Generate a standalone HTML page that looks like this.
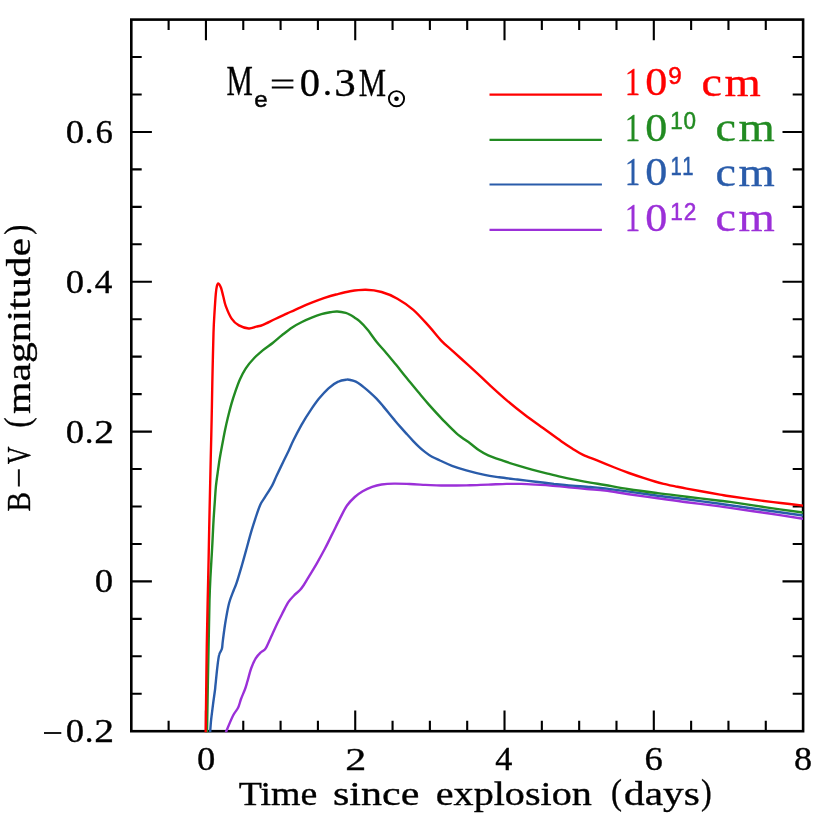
<!DOCTYPE html>
<html><head><meta charset="utf-8"><title>B-V</title>
<style>
html,body{margin:0;padding:0;background:#fff;}
svg{display:block;}
.s{font-family:"Liberation Sans",sans-serif;}
.r{font-family:"Liberation Serif",serif;}
</style></head><body>
<svg width="830" height="822" viewBox="0 0 830 822">
<rect width="830" height="822" fill="#fff"/>
<path d="M168.62 731.20v-10.4M168.62 19.60v10.4M205.94 731.20v-20.6M205.94 19.60v20.6M243.27 731.20v-10.4M243.27 19.60v10.4M280.59 731.20v-10.4M280.59 19.60v10.4M317.91 731.20v-10.4M317.91 19.60v10.4M355.23 731.20v-20.6M355.23 19.60v20.6M392.56 731.20v-10.4M392.56 19.60v10.4M429.88 731.20v-10.4M429.88 19.60v10.4M467.20 731.20v-10.4M467.20 19.60v10.4M504.52 731.20v-20.6M504.52 19.60v20.6M541.84 731.20v-10.4M541.84 19.60v10.4M579.17 731.20v-10.4M579.17 19.60v10.4M616.49 731.20v-10.4M616.49 19.60v10.4M653.81 731.20v-20.6M653.81 19.60v20.6M691.13 731.20v-10.4M691.13 19.60v10.4M728.46 731.20v-10.4M728.46 19.60v10.4M765.78 731.20v-10.4M765.78 19.60v10.4M131.30 693.75h10.4M803.10 693.75h-10.4M131.30 656.29h10.4M803.10 656.29h-10.4M131.30 618.84h10.4M803.10 618.84h-10.4M131.30 581.39h20.6M803.10 581.39h-20.6M131.30 543.94h10.4M803.10 543.94h-10.4M131.30 506.48h10.4M803.10 506.48h-10.4M131.30 469.03h10.4M803.10 469.03h-10.4M131.30 431.58h20.6M803.10 431.58h-20.6M131.30 394.13h10.4M803.10 394.13h-10.4M131.30 356.67h10.4M803.10 356.67h-10.4M131.30 319.22h10.4M803.10 319.22h-10.4M131.30 281.77h20.6M803.10 281.77h-20.6M131.30 244.32h10.4M803.10 244.32h-10.4M131.30 206.86h10.4M803.10 206.86h-10.4M131.30 169.41h10.4M803.10 169.41h-10.4M131.30 131.96h20.6M803.10 131.96h-20.6M131.30 94.51h10.4M803.10 94.51h-10.4M131.30 57.05h10.4M803.10 57.05h-10.4" stroke="#000" stroke-width="2.1" fill="none"/>
<rect x="131.30" y="19.60" width="671.80" height="711.60" fill="none" stroke="#000" stroke-width="2.6"/>
<clipPath id="c"><rect x="131.3" y="19.6" width="672.4" height="712.8"/></clipPath>
<g clip-path="url(#c)" fill="none" stroke-width="2.4" stroke-linejoin="round">
<path d="M225.8 732.4C227.0 729.6 231.0 719.6 233.1 715.5C235.2 711.4 236.9 710.3 238.2 707.5C239.5 704.7 240.0 701.7 241.1 698.8C242.2 695.9 243.6 692.9 244.7 690.0C245.8 687.1 246.4 684.8 247.5 681.2C248.6 677.6 249.7 672.3 251.1 668.5C252.5 664.7 254.0 661.1 255.7 658.4C257.4 655.6 259.5 653.7 261.2 652.0C262.9 650.3 263.9 651.3 265.7 648.4C267.5 645.5 270.1 639.0 272.1 634.7C274.1 630.4 275.8 626.6 277.6 622.8C279.4 619.0 281.3 615.4 283.1 611.9C284.9 608.4 286.7 604.6 288.5 601.9C290.3 599.2 292.1 597.5 294.0 595.5C295.9 593.5 298.4 591.8 300.0 590.0C301.6 588.2 302.2 587.4 303.8 585.0C305.4 582.6 307.1 579.5 309.3 575.9C311.5 572.2 314.4 567.7 317.0 563.1C319.6 558.5 322.4 553.4 325.0 548.5C327.6 543.6 329.8 538.9 332.3 533.9C334.8 528.9 337.6 523.1 340.0 518.4C342.4 513.7 344.5 509.1 347.0 505.5C349.5 501.9 352.2 499.4 354.8 497.0C357.4 494.6 359.8 492.9 362.7 491.2C365.6 489.5 369.0 487.9 372.1 486.8C375.2 485.7 377.9 485.0 381.5 484.5C385.1 484.0 389.3 483.7 394.0 483.6C398.7 483.5 404.4 483.8 409.6 484.0C414.8 484.2 420.1 484.6 425.3 484.9C430.5 485.1 435.8 485.4 441.0 485.5C446.2 485.6 451.8 485.5 456.6 485.5C461.4 485.5 464.7 485.4 470.0 485.3C475.3 485.2 482.1 484.8 488.2 484.6C494.3 484.4 501.0 484.0 506.5 483.9C512.0 483.8 516.2 483.8 521.1 483.9C526.0 484.0 530.8 484.3 535.7 484.6C540.6 484.9 544.8 485.1 550.3 485.5C555.8 485.9 562.4 486.6 568.5 487.2C574.6 487.8 580.7 488.4 586.8 489.0C592.9 489.6 598.0 489.6 605.0 490.5C612.0 491.4 620.1 492.9 628.9 494.2C637.7 495.5 648.2 497.0 657.8 498.3C667.4 499.6 676.3 500.9 686.7 502.2C697.1 503.5 712.8 505.4 720.0 506.4C727.2 507.3 722.0 506.8 730.0 507.9C738.0 509.0 755.5 511.5 767.7 513.3C779.9 515.1 797.1 517.8 803.0 518.7" stroke="#9b30d8"/>
<path d="M210.1 732.4C210.3 730.2 210.7 723.8 211.2 719.2C211.7 714.6 212.4 709.5 213.0 704.6C213.6 699.7 214.6 693.3 215.0 690.0C215.4 686.7 215.1 688.8 215.5 684.9C215.9 681.0 216.8 671.6 217.4 666.6C218.0 661.6 218.4 657.8 219.2 654.8C219.9 651.8 221.3 651.1 221.9 648.8C222.5 646.5 222.2 645.7 222.8 641.1C223.4 636.5 224.5 627.4 225.6 621.0C226.7 614.6 227.8 608.0 229.2 602.8C230.6 597.6 232.6 593.3 233.8 590.0C235.0 586.7 235.1 587.4 236.5 583.2C237.9 579.0 240.3 570.8 242.0 565.0C243.7 559.2 245.1 554.0 246.6 548.5C248.1 543.0 249.6 537.3 251.1 532.1C252.6 526.9 254.2 522.1 255.7 517.5C257.2 512.9 258.8 508.1 260.3 504.7C261.8 501.3 262.8 500.6 264.8 497.4C266.8 494.2 270.1 489.2 272.1 485.6C274.1 482.0 274.8 479.5 276.7 475.5C278.6 471.5 281.4 465.7 283.4 461.5C285.4 457.3 287.1 454.0 288.8 450.5C290.5 447.0 291.2 444.8 293.3 440.5C295.4 436.2 298.7 429.8 301.5 424.8C304.3 419.9 307.3 415.1 310.2 410.8C313.1 406.5 315.8 402.6 318.8 398.8C321.9 395.1 325.3 391.2 328.5 388.3C331.7 385.4 335.2 383.1 338.2 381.7C341.2 380.2 344.5 379.9 346.7 379.6C348.9 379.4 350.0 379.9 351.5 380.2C353.0 380.5 354.4 380.9 355.8 381.6C357.2 382.3 358.6 383.2 360.0 384.2C361.4 385.2 362.6 386.2 364.3 387.6C366.0 389.0 368.4 391.0 370.4 392.8C372.4 394.6 374.5 396.5 376.5 398.6C378.5 400.7 380.6 403.2 382.6 405.6C384.6 408.0 386.7 410.5 388.7 413.0C390.7 415.5 392.8 418.0 394.8 420.4C396.8 422.8 398.8 425.1 400.8 427.4C402.8 429.7 405.0 432.1 407.0 434.3C409.0 436.5 411.0 438.7 413.0 440.8C415.0 442.9 417.0 444.9 419.0 446.8C421.0 448.7 423.0 450.4 425.2 452.1C427.4 453.8 429.5 455.4 432.0 456.8C434.5 458.2 436.7 459.0 440.0 460.5C443.3 462.0 447.6 464.2 452.0 465.8C456.4 467.4 460.9 468.8 466.3 470.3C471.7 471.8 479.1 473.7 484.6 474.9C490.1 476.1 493.7 476.5 499.2 477.3C504.7 478.1 511.3 478.8 517.4 479.5C523.5 480.2 529.6 481.0 535.7 481.7C541.8 482.4 547.8 483.2 553.9 483.9C560.0 484.5 566.1 485.1 572.2 485.6C578.3 486.1 584.9 486.5 590.4 487.0C595.9 487.5 598.6 487.6 605.0 488.4C611.4 489.2 620.1 490.4 628.9 491.6C637.7 492.8 648.2 494.4 657.8 495.7C667.4 497.0 676.3 497.9 686.7 499.3C697.1 500.7 712.8 502.8 720.0 503.8C727.2 504.8 722.0 504.1 730.0 505.2C738.0 506.3 755.5 508.8 767.7 510.5C779.9 512.2 797.1 514.7 803.0 515.5" stroke="#2a5caa"/>
<path d="M207.0 732.4C207.2 723.9 207.6 697.3 207.9 681.2C208.2 665.1 208.5 649.1 208.8 635.6C209.1 622.1 209.2 609.6 209.5 600.0C209.8 590.4 210.0 585.7 210.4 577.7C210.8 569.7 211.4 560.7 211.9 552.2C212.4 543.7 212.8 534.5 213.2 526.6C213.6 518.7 214.1 511.4 214.6 504.7C215.1 498.0 215.3 492.6 215.9 486.5C216.5 480.4 217.7 472.9 218.3 468.2C219.0 463.4 219.2 461.5 219.8 458.0C220.4 454.5 220.9 451.6 221.8 447.0C222.7 442.4 224.0 435.1 225.0 430.3C226.0 425.5 226.6 422.6 227.7 418.2C228.8 413.8 230.2 408.1 231.5 403.6C232.8 399.1 234.0 395.5 235.4 391.4C236.8 387.3 238.3 383.0 240.0 379.2C241.7 375.4 243.5 371.8 245.8 368.3C248.1 364.9 250.9 361.5 253.8 358.5C256.7 355.5 259.9 352.8 263.0 350.2C266.1 347.6 269.4 345.6 272.7 343.0C275.9 340.4 279.2 337.4 282.5 334.8C285.8 332.2 289.0 329.6 292.2 327.5C295.4 325.4 298.6 323.6 301.9 322.0C305.1 320.4 308.4 318.9 311.7 317.6C314.9 316.3 318.2 315.1 321.4 314.2C324.6 313.3 328.5 312.6 331.1 312.1C333.7 311.7 334.8 311.4 337.2 311.5C339.6 311.6 343.5 312.3 345.7 312.9C347.9 313.5 348.9 314.2 350.5 315.0C352.1 315.8 353.5 316.9 355.0 317.9C356.5 318.9 357.4 319.3 359.5 321.2C361.6 323.1 364.5 326.0 367.4 329.5C370.3 333.0 374.0 338.6 376.9 342.2C379.8 345.8 381.6 347.5 384.8 351.2C388.0 354.9 392.2 360.1 395.9 364.6C399.6 369.1 403.2 373.8 406.9 378.3C410.6 382.8 414.3 387.4 418.0 391.8C421.7 396.2 424.9 400.1 429.1 404.9C433.3 409.6 438.7 415.6 443.3 420.3C447.9 425.0 452.1 429.5 456.5 433.3C460.9 437.1 466.2 440.5 470.0 443.3C473.8 446.1 476.1 448.3 479.1 450.3C482.1 452.3 484.2 453.7 488.2 455.4C492.1 457.1 497.9 459.0 502.8 460.7C507.7 462.4 512.5 463.9 517.4 465.4C522.3 466.9 527.1 468.3 532.0 469.6C536.9 470.9 541.7 472.1 546.6 473.3C551.5 474.5 556.3 475.7 561.2 476.8C566.1 477.9 570.9 478.9 575.8 479.9C580.7 480.9 585.5 481.8 590.4 482.6C595.3 483.5 598.6 483.9 605.0 485.0C611.4 486.1 620.1 487.8 628.9 489.2C637.7 490.6 648.2 491.9 657.8 493.1C667.4 494.4 676.3 495.4 686.7 496.7C697.1 498.0 712.8 499.8 720.0 500.7C727.2 501.6 722.0 500.8 730.0 501.9C738.0 503.0 755.5 505.8 767.7 507.6C779.9 509.4 797.1 511.7 803.0 512.5" stroke="#228b22"/>
<path d="M205.7 732.4C205.8 726.9 205.9 714.1 206.1 699.5C206.3 684.9 206.5 661.3 206.8 644.7C207.1 628.1 207.4 614.2 207.7 600.0C208.0 585.8 208.3 575.4 208.6 559.5C208.9 543.6 209.3 521.3 209.7 504.7C210.0 488.1 210.4 472.4 210.7 460.0C211.0 447.6 211.2 439.3 211.4 430.3C211.6 421.3 211.7 416.1 211.9 406.0C212.1 395.9 212.3 381.7 212.6 369.5C212.9 357.3 213.2 342.5 213.5 333.0C213.8 323.5 214.1 319.1 214.5 312.6C214.9 306.1 215.4 298.3 215.8 293.9C216.2 289.5 216.4 288.1 216.8 286.4C217.2 284.7 217.8 283.4 218.5 283.6C219.2 283.8 220.2 285.6 221.0 287.7C221.8 289.8 222.5 293.5 223.3 296.5C224.1 299.5 224.3 302.1 225.7 305.8C227.1 309.5 229.4 315.3 231.6 318.6C233.8 321.9 236.0 323.8 238.9 325.4C241.8 327.0 245.9 328.3 248.8 328.5C251.7 328.7 253.9 327.3 256.3 326.7C258.7 326.1 259.9 326.1 263.0 324.8C266.1 323.5 271.1 320.9 275.2 319.0C279.2 317.1 283.2 315.3 287.3 313.4C291.4 311.5 295.4 309.6 299.5 307.8C303.6 306.0 307.6 304.3 311.7 302.7C315.8 301.1 319.8 299.6 323.8 298.2C327.9 296.8 331.6 295.6 336.0 294.5C340.4 293.4 345.0 292.1 350.0 291.3C355.0 290.5 360.5 289.7 365.8 289.8C371.1 289.9 376.3 290.5 381.6 292.0C386.9 293.5 392.1 295.7 397.4 298.7C402.7 301.7 408.0 305.2 413.3 309.8C418.6 314.4 424.4 321.2 429.1 326.4C433.8 331.6 437.8 337.0 441.7 341.1C445.6 345.2 448.3 347.1 452.8 351.1C457.3 355.2 464.1 361.3 468.6 365.4C473.1 369.5 476.7 372.8 480.0 375.9C483.3 378.9 483.8 379.7 488.2 383.7C492.6 387.7 500.4 394.9 506.5 400.1C512.6 405.3 518.6 410.1 524.7 414.7C530.8 419.3 536.9 423.6 543.0 428.0C549.1 432.4 556.3 437.8 561.2 441.2C566.1 444.6 568.6 446.2 572.2 448.5C575.9 450.8 578.9 452.9 583.1 454.9C587.4 456.9 592.5 458.6 597.7 460.7C602.9 462.8 609.3 465.4 614.5 467.5C619.7 469.6 624.1 471.3 628.9 473.0C633.7 474.7 639.1 476.5 643.4 477.9C647.7 479.3 651.5 480.5 654.9 481.5C658.3 482.5 660.2 483.0 663.6 483.8C667.0 484.6 671.4 485.5 675.2 486.3C679.1 487.1 682.4 487.8 686.7 488.6C691.0 489.4 695.7 490.3 701.2 491.3C706.8 492.3 715.2 493.8 720.0 494.6C724.8 495.4 723.1 495.3 730.0 496.3C736.9 497.3 752.8 499.5 761.2 500.6C769.7 501.7 773.7 502.2 780.7 503.0C787.7 503.8 799.3 505.2 803.0 505.6" stroke="#ff0000"/>
</g>
<path d="M489.5 94.6H601.9" stroke="#ff0000" stroke-width="2.2"/>
<path d="M489.5 139.9H601.9" stroke="#228b22" stroke-width="2.2"/>
<path d="M489.5 184.5H601.9" stroke="#2a5caa" stroke-width="2.2"/>
<path d="M489.5 229.8H601.9" stroke="#9b30d8" stroke-width="2.2"/>
<path d="M44.0 733.0H61.3" stroke="#000" stroke-width="1.8" fill="none"/>
<path d="M271.8 80.5H293.4M271.8 87.5H293.4" stroke="#000" stroke-width="1.8" fill="none"/>
<circle cx="396.5" cy="98.7" r="7.6" fill="none" stroke="#000" stroke-width="1.9"/><circle cx="396.5" cy="98.8" r="2.3" fill="#000"/>
<g opacity="0.999">
<text class="r" font-size="33" stroke="#000" stroke-width="0.35" transform="translate(65.79,142.95) scale(1.1103,0.9956)">0</text>
<text class="r" font-size="33" stroke="#000" stroke-width="0.35" transform="translate(84.78,142.96) scale(1.0588,0.9750)">.</text>
<text class="r" font-size="33" stroke="#000" stroke-width="0.35" transform="translate(95.38,142.95) scale(1.0552,0.9956)">6</text>
<text class="r" font-size="33" stroke="#000" stroke-width="0.35" transform="translate(65.79,292.75) scale(1.1103,0.9956)">0</text>
<text class="r" font-size="33" stroke="#000" stroke-width="0.35" transform="translate(84.78,292.76) scale(1.0588,0.9750)">.</text>
<text class="r" font-size="33" stroke="#000" stroke-width="0.35" transform="translate(94.67,292.70) scale(1.0667,0.9955)">4</text>
<text class="r" font-size="33" stroke="#000" stroke-width="0.35" transform="translate(65.79,442.75) scale(1.1103,0.9956)">0</text>
<text class="r" font-size="33" stroke="#000" stroke-width="0.35" transform="translate(84.78,442.76) scale(1.0588,0.9750)">.</text>
<text class="r" font-size="33" stroke="#000" stroke-width="0.35" transform="translate(94.30,442.70) scale(1.2000,0.9933)">2</text>
<text class="r" font-size="33" stroke="#000" stroke-width="0.35" transform="translate(94.68,592.35) scale(1.1172,0.9956)">0</text>
<text class="r" font-size="33" stroke="#000" stroke-width="0.35" transform="translate(65.79,742.10) scale(1.1103,0.9956)">0</text>
<text class="r" font-size="33" stroke="#000" stroke-width="0.35" transform="translate(84.78,742.11) scale(1.0588,0.9750)">.</text>
<text class="r" font-size="33" stroke="#000" stroke-width="0.35" transform="translate(94.30,742.05) scale(1.2000,0.9933)">2</text>
<text class="r" font-size="33" stroke="#000" stroke-width="0.35" transform="translate(197.09,770.20) scale(1.1103,0.9911)">0</text>
<text class="r" font-size="33" stroke="#000" stroke-width="0.35" transform="translate(345.31,770.25) scale(1.2741,0.9843)">2</text>
<text class="r" font-size="33" stroke="#000" stroke-width="0.35" transform="translate(495.18,770.25) scale(1.0349,0.9909)">4</text>
<text class="r" font-size="33" stroke="#000" stroke-width="0.35" transform="translate(644.41,770.20) scale(1.1103,0.9956)">6</text>
<text class="r" font-size="33" stroke="#000" stroke-width="0.35" transform="translate(793.90,770.20) scale(1.0966,1.0044)">8</text>
<text class="r" font-size="33.5" stroke="#000" stroke-width="0.35" transform="translate(238.73,804.80) scale(1.1309,1.0000)">Time</text>
<text class="r" font-size="33.5" stroke="#000" stroke-width="0.35" transform="translate(333.03,804.80) scale(1.2541,1.0000)">since</text>
<text class="r" font-size="33.5" stroke="#000" stroke-width="0.35" transform="translate(435.80,804.80) scale(1.1977,1.0000)">explosion</text>
<text class="r" font-size="38" stroke="#000" stroke-width="0.35" transform="translate(610.99,804.09) scale(0.8700,0.9468)">(</text>
<text class="r" font-size="33.5" stroke="#000" stroke-width="0.35" transform="translate(624.07,804.80) scale(1.2321,1.0000)">days</text>
<text class="r" font-size="38" stroke="#000" stroke-width="0.35" transform="translate(701.05,804.09) scale(0.8488,0.9468)">)</text>
<text class="r" font-size="33.5" stroke="#000" stroke-width="0.35" transform="translate(0,540.0) rotate(-90) translate(28.55,30.30) scale(0.8700,1.0000)">B</text>
<text class="r" font-size="33.5" stroke="#000" stroke-width="0.35" transform="translate(0,540.0) rotate(-90) translate(52.07,30.30) scale(1.0875,1.0000)">−</text>
<text class="r" font-size="33.5" stroke="#000" stroke-width="0.35" transform="translate(0,540.0) rotate(-90) translate(75.72,30.30) scale(0.7326,1.0000)">V</text>
<text class="r" font-size="38" stroke="#000" stroke-width="0.35" transform="translate(0,540.0) rotate(-90) translate(112.18,28.54) scale(0.8100,0.9410)">(</text>
<text class="r" font-size="33.5" stroke="#000" stroke-width="0.35" transform="translate(0,540.0) rotate(-90) translate(125.98,30.30) scale(1.2450,1.0000)">magnitude</text>
<text class="r" font-size="38" stroke="#000" stroke-width="0.35" transform="translate(0,540.0) rotate(-90) translate(305.21,28.54) scale(0.7902,0.9410)">)</text>
<text class="r" font-size="40" stroke="#000" stroke-width="0.35" transform="translate(226.46,95.04) scale(0.7403,1.0302)">M</text>
<text class="s" font-size="24" stroke="#000" stroke-width="0.5" transform="translate(254.15,106.53) scale(1.0043,0.9309)">e</text>
<text class="r" font-size="40" stroke="#000" stroke-width="0.35" transform="translate(299.74,95.70) scale(1.0114,1.0055)">0</text>
<text class="r" font-size="40" stroke="#000" stroke-width="0.35" transform="translate(322.85,95.37) scale(0.9400,0.8400)">.</text>
<text class="r" font-size="40" stroke="#000" stroke-width="0.35" transform="translate(334.32,95.69) scale(1.0746,1.0239)">3</text>
<text class="r" font-size="40" stroke="#000" stroke-width="0.35" transform="translate(358.63,95.55) scale(0.7672,1.0151)">M</text>
<text class="r" font-size="40" fill="#ff0000" stroke="#ff0000" stroke-width="0.35" transform="translate(625.03,95.35) scale(0.7586,0.9981)">1</text>
<text class="r" font-size="40" fill="#ff0000" stroke="#ff0000" stroke-width="0.35" transform="translate(645.32,95.30) scale(1.1029,0.9982)">0</text>
<text class="s" font-size="24" fill="#ff0000" stroke="#ff0000" stroke-width="0.5" letter-spacing="0.8" transform="translate(668.29,84.29) scale(1.0087,1.0114)">9</text>
<text class="r" font-size="41" fill="#ff0000" stroke="#ff0000" stroke-width="0.35" transform="translate(701.52,95.71) scale(1.1226,0.9850)">c</text>
<text class="r" font-size="41" fill="#ff0000" stroke="#ff0000" stroke-width="0.35" transform="translate(724.45,95.65) scale(1.1382,0.9823)">m</text>
<text class="r" font-size="40" fill="#228b22" stroke="#228b22" stroke-width="0.35" transform="translate(625.03,140.55) scale(0.7586,0.9981)">1</text>
<text class="r" font-size="40" fill="#228b22" stroke="#228b22" stroke-width="0.35" transform="translate(645.32,140.50) scale(1.1029,0.9982)">0</text>
<text class="s" font-size="24" fill="#228b22" stroke="#228b22" stroke-width="0.5" letter-spacing="0.8" transform="translate(670.30,129.49) scale(0.9347,1.0114)">10</text>
<text class="r" font-size="41" fill="#228b22" stroke="#228b22" stroke-width="0.35" transform="translate(715.52,140.91) scale(1.1226,0.9850)">c</text>
<text class="r" font-size="41" fill="#228b22" stroke="#228b22" stroke-width="0.35" transform="translate(738.45,140.85) scale(1.1382,0.9823)">m</text>
<text class="r" font-size="40" fill="#2a5caa" stroke="#2a5caa" stroke-width="0.35" transform="translate(625.03,185.45) scale(0.7586,0.9981)">1</text>
<text class="r" font-size="40" fill="#2a5caa" stroke="#2a5caa" stroke-width="0.35" transform="translate(645.32,185.40) scale(1.1029,0.9982)">0</text>
<text class="s" font-size="24" fill="#2a5caa" stroke="#2a5caa" stroke-width="0.5" letter-spacing="2.5" transform="translate(670.43,174.64) scale(0.8440,1.0412)">11</text>
<text class="r" font-size="41" fill="#2a5caa" stroke="#2a5caa" stroke-width="0.35" transform="translate(715.52,185.81) scale(1.1226,0.9850)">c</text>
<text class="r" font-size="41" fill="#2a5caa" stroke="#2a5caa" stroke-width="0.35" transform="translate(738.45,185.75) scale(1.1382,0.9823)">m</text>
<text class="r" font-size="40" fill="#9b30d8" stroke="#9b30d8" stroke-width="0.35" transform="translate(625.03,230.55) scale(0.7586,0.9981)">1</text>
<text class="r" font-size="40" fill="#9b30d8" stroke="#9b30d8" stroke-width="0.35" transform="translate(645.32,230.50) scale(1.1029,0.9982)">0</text>
<text class="s" font-size="24" fill="#9b30d8" stroke="#9b30d8" stroke-width="0.5" letter-spacing="0.8" transform="translate(670.28,219.74) scale(0.9440,1.0261)">12</text>
<text class="r" font-size="41" fill="#9b30d8" stroke="#9b30d8" stroke-width="0.35" transform="translate(715.52,230.91) scale(1.1226,0.9850)">c</text>
<text class="r" font-size="41" fill="#9b30d8" stroke="#9b30d8" stroke-width="0.35" transform="translate(738.45,230.85) scale(1.1382,0.9823)">m</text>
</g>
</svg></body></html>
